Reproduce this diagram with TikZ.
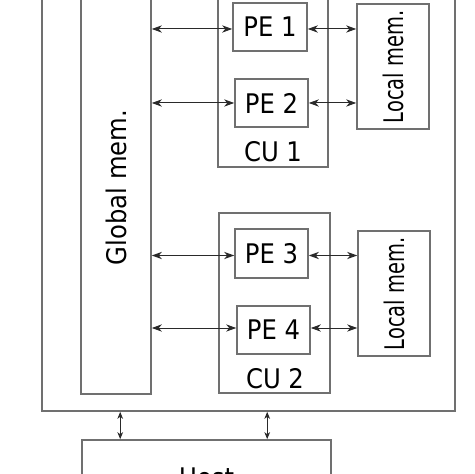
\documentclass[tikz,border=0pt]{standalone}
\usepackage{fontspec}
\setmainfont{DejaVu Sans}
\usetikzlibrary{arrows.meta}
\definecolor{boxgray}{HTML}{707070}
\definecolor{arrgray}{HTML}{2A2A2A}
\newcommand{\nx}[1]{\scalebox{0.9}[1]{#1}}
\newcommand{\lx}[1]{\scalebox{0.72}[1]{#1}}
\begin{document}
\begin{tikzpicture}[x=0.5pt,y=-0.5pt,
  box/.style={draw=boxgray,line width=0.8pt,rectangle,inner sep=0pt,fill=none,
    font=\fontsize{13.5}{16}\selectfont},
  lbl/.style={inner sep=0pt,font=\fontsize{13.5}{16}\selectfont},
  arr/.style={draw=arrgray,line width=0.5pt,{Stealth[length=5pt,width=3.6pt,inset=1.5pt]}-{Stealth[length=5pt,width=3.6pt,inset=1.5pt]}},
  sarr/.style={draw=arrgray,line width=0.45pt,{Stealth[length=3.5pt,width=2.8pt,inset=1pt]}-{Stealth[length=3.5pt,width=2.8pt,inset=1pt]}}
]
\useasboundingbox (0,0) rectangle (474,474);
\fill[white] (0,0) rectangle (474,474);
\clip (0,0) rectangle (474,474);
% outer device box
\node[box,minimum width=206.5pt,minimum height=225.5pt] (outer) at (248.5,185.5) {};
% global memory
\node[box,minimum width=35pt,minimum height=206.5pt] (gmem) at (116,187.5) {};
\node[lbl,rotate=90] (gtxt) at (116,187.5) {\nx{Global mem.}};
% compute units
\node[box,minimum width=55pt,minimum height=90pt] (cu1) at (273,77) {};
\node[lbl] (cu1l) at (273,152) {\nx{CU 1}};
\node[box,minimum width=55.5pt,minimum height=90pt] (cu2) at (274.5,303) {};
\node[lbl] (cu2l) at (275,379) {\nx{CU 2}};
% processing elements
\node[box,minimum width=37pt,minimum height=24pt] (pe1) at (270,27) {\nx{PE 1}};
\node[box,minimum width=36.5pt,minimum height=24pt] (pe2) at (271.5,103) {\nx{PE 2}};
\node[box,minimum width=36.5pt,minimum height=24.5pt] (pe3) at (271.5,253.5) {\nx{PE 3}};
\node[box,minimum width=36.5pt,minimum height=24pt] (pe4) at (273.5,330) {\nx{PE 4}};
% local memories
\node[box,minimum width=36pt,minimum height=62.5pt] (lm1) at (393,66.5) {};
\node[lbl,rotate=90] (lm1t) at (393,67) {\lx{Local mem.}};
\node[box,minimum width=36pt,minimum height=62.5pt] (lm2) at (394,293.5) {};
\node[lbl,rotate=90] (lm2t) at (394,294) {\lx{Local mem.}};
% host
\node[box,minimum width=124.5pt,minimum height=38pt] (host) at (206.5,478) {\nx{Host}};
% connectors
\draw[arr] ([yshift=-1pt]gmem.east |- pe1.west) -- ([yshift=-1pt]pe1.west);
\draw[arr] ([yshift=-1pt]pe1.east) -- ([yshift=-1pt]pe1.east -| lm1.west);
\draw[arr] (gmem.east |- pe2.west) -- (pe2.west);
\draw[arr] (pe2.east) -- (pe2.east -| lm1.west);
\draw[arr] ([yshift=-1pt]gmem.east |- pe3.west) -- ([yshift=-1pt]pe3.west);
\draw[arr] ([yshift=-1pt]pe3.east) -- ([yshift=-1pt]pe3.east -| lm2.west);
\draw[arr] ([yshift=1pt]gmem.east |- pe4.west) -- ([yshift=1pt]pe4.west);
\draw[arr] ([yshift=1pt]pe4.east) -- ([yshift=1pt]pe4.east -| lm2.west);
\draw[sarr] ([xshift=19.5pt]host.north west) -- ([xshift=19.5pt]host.north west |- outer.south);
\draw[sarr] ([xshift=93pt]host.north west) -- ([xshift=93pt]host.north west |- outer.south);
\end{tikzpicture}
\end{document}
